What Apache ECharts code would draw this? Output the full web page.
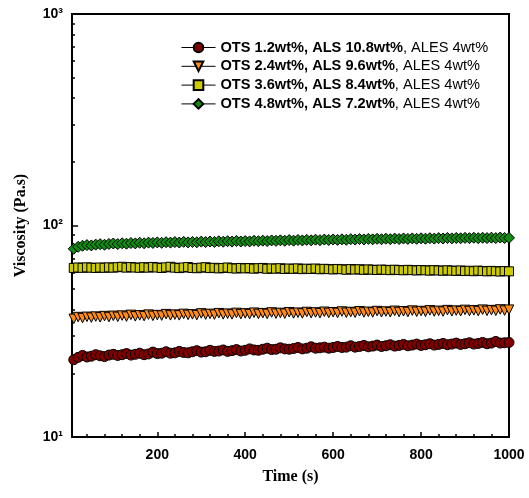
<!DOCTYPE html>
<html lang="en">
<head>
  <meta charset="UTF-8">
  <script src="https://cdn.jsdelivr.net/npm/echarts@6/dist/echarts.min.js"></script>
  <style>
    html, body { margin: 0; padding: 0; background: #fff; }
    #container { width: 529px; height: 498px; }
  </style>
</head>
<body>
  <div id="container"></div>
  <script>
    // time (s)
    var timeS = [
      10, 20, 30, 40, 50, 60, 70, 80, 90, 100,
      110, 120, 130, 140, 150, 160, 170, 180, 190, 200,
      210, 220, 230, 240, 250, 260, 270, 280, 290, 300,
      310, 320, 330, 340, 350, 360, 370, 380, 390, 400,
      410, 420, 430, 440, 450, 460, 470, 480, 490, 500,
      510, 520, 530, 540, 550, 560, 570, 580, 590, 600,
      610, 620, 630, 640, 650, 660, 670, 680, 690, 700,
      710, 720, 730, 740, 750, 760, 770, 780, 790, 800,
      810, 820, 830, 840, 850, 860, 870, 880, 890, 900,
      910, 920, 930, 940, 950, 960, 970, 980, 990, 1000
    ];

    // viscosity (Pa.s) for each sample
    var ots12 = [
      23.2, 23.8, 24.3, 23.9, 24.1, 24.5, 24.2, 24.0, 24.4, 24.6,
      24.3, 24.5, 24.8, 24.4, 24.6, 24.9, 24.5, 24.7, 25.2, 24.8,
      24.9, 25.3, 24.9, 25.0, 25.4, 25.1, 25.0, 25.3, 25.6, 25.2,
      25.3, 25.7, 25.4, 25.5, 25.8, 25.4, 25.6, 25.9, 25.5, 25.7,
      26.1, 25.8, 25.7, 26.0, 26.3, 25.9, 26.0, 26.4, 26.1, 26.0,
      26.2, 26.5, 26.1, 26.3, 26.7, 26.3, 26.4, 26.6, 26.3, 26.5,
      26.8, 26.5, 26.6, 27.0, 26.6, 26.8, 27.1, 26.7, 26.9, 27.2,
      26.8, 27.0, 27.3, 26.9, 27.1, 27.4, 27.0, 27.2, 27.5, 27.1,
      27.3, 27.6, 27.2, 27.4, 27.7, 27.3, 27.5, 27.8, 27.4, 27.6,
      27.9, 27.5, 27.7, 28.0, 27.6, 27.8, 28.3, 27.8, 27.9, 28.0
    ];
    var ots24 = [
      36.2, 36.9, 36.5, 37.0, 36.7, 37.1, 36.8, 37.3, 36.9, 37.4,
      37.0, 37.5, 37.1, 37.8, 37.2, 37.6, 37.3, 37.9, 37.4, 37.7,
      37.5, 38.1, 37.6, 37.9, 37.6, 38.2, 37.8, 38.0, 37.7, 38.4,
      37.9, 38.2, 37.9, 38.5, 38.0, 38.3, 38.0, 38.6, 38.1, 38.4,
      38.1, 38.7, 38.2, 38.5, 38.2, 38.8, 38.3, 38.6, 38.3, 38.9,
      38.4, 38.7, 38.4, 39.0, 38.5, 38.8, 38.5, 39.1, 38.6, 38.9,
      38.6, 39.2, 38.7, 39.0, 38.7, 39.3, 38.8, 39.1, 38.8, 39.4,
      38.9, 39.2, 38.9, 39.5, 39.0, 39.3, 39.0, 39.6, 39.1, 39.4,
      39.1, 39.7, 39.2, 39.5, 39.2, 39.8, 39.3, 39.6, 39.3, 39.9,
      39.4, 39.7, 39.4, 40.0, 39.5, 39.8, 39.5, 40.1, 39.6, 40.0
    ];
    var ots36 = [
      63.0, 63.3, 63.1, 63.4, 63.2, 63.0, 63.3, 63.1, 63.4, 63.2,
      63.5, 63.8, 63.2, 63.6, 63.3, 63.1, 63.5, 63.2, 63.7, 63.3,
      63.0, 63.4, 63.8, 63.2, 62.9, 63.3, 63.6, 63.0, 62.8, 63.2,
      63.5, 62.9, 63.1, 62.7, 63.0, 63.3, 62.8, 62.6, 63.0, 62.7,
      62.9, 62.5, 62.8, 63.0, 62.4, 62.7, 62.5, 62.8, 62.3, 62.6,
      62.4, 62.7, 62.2, 62.5, 62.3, 62.6, 62.1, 62.4, 62.2, 62.0,
      62.3, 62.1, 61.8, 62.2, 61.9, 62.1, 61.7, 62.0, 61.8, 61.6,
      61.9, 61.7, 61.5, 61.8, 61.6, 61.4, 61.7, 61.5, 61.3, 61.6,
      61.4, 61.2, 61.5, 61.3, 61.1, 61.4, 61.2, 61.0, 61.3, 60.9,
      61.1, 60.8, 61.2, 60.9, 60.7, 61.0, 60.8, 60.6, 60.9, 60.7
    ];
    var ots48 = [
      77.6, 79.3, 80.2, 80.8, 80.5, 81.2, 81.6, 81.1, 81.8, 82.2,
      81.7, 82.4, 82.0, 82.6, 82.3, 82.9, 82.4, 83.0, 82.7, 83.2,
      82.8, 83.4, 83.0, 83.5, 83.1, 83.7, 83.2, 83.6, 83.3, 83.9,
      83.5, 84.0, 83.6, 84.2, 83.8, 84.3, 83.9, 84.5, 84.0, 84.4,
      84.1, 84.7, 84.3, 84.8, 84.4, 85.0, 84.6, 85.1, 84.7, 85.3,
      84.8, 85.4, 85.0, 85.5, 85.1, 85.7, 85.2, 85.8, 85.4, 85.9,
      85.5, 86.0, 85.6, 86.2, 85.8, 86.3, 85.9, 86.4, 86.0, 86.5,
      86.1, 86.6, 86.2, 86.7, 86.3, 86.8, 86.4, 86.9, 86.5, 87.0,
      86.6, 87.1, 86.7, 87.2, 86.8, 87.3, 86.9, 87.3, 87.0, 87.4,
      87.1, 87.5, 87.1, 87.5, 87.2, 87.6, 87.2, 87.7, 87.3, 87.4
    ];

    // legend text: bold part + plain part
    var boldNames = [
      'OTS 1.2wt%, ALS 10.8wt%',
      'OTS 2.4wt%, ALS 9.6wt%',
      'OTS 3.6wt%, ALS 8.4wt%',
      'OTS 4.8wt%, ALS 7.2wt%'
    ];
    var plainName = ', ALES 4wt%';

    var xMajorTicks = [200, 400, 600, 800, 1000];
    var xMinorTicks = [40, 80, 120, 160, 240, 280, 320, 360, 440, 480, 520, 560,
      640, 680, 720, 760, 840, 880, 920, 960];
    var yMinorTicks = [20, 30, 40, 50, 60, 70, 80, 90, 200, 300, 400, 500, 600, 700, 800, 900];

    var seriesValues = [ots12, ots24, ots36, ots48];
    var seriesColors = ['#800000', '#ff8c1a', '#cccc00', '#138a13'];
    var seriesSymbols = ['circle', 'triangle', 'rect', 'diamond'];
    var seriesRotate = [0, 180, 0, 0];
    var seriesSizes = [10, 9.5, 9, 11];

    function pairs(values) {
      var res = [];
      for (var i = 0; i < values.length; i++) {
        res.push([timeS[i], values[i]]);
      }
      return res;
    }

    var sup = { 1: '\u00b9', 2: '\u00b2', 3: '\u00b3' };
    var myChart = echarts.init(document.getElementById('container'));

    var series = [];
    for (var i = 0; i < seriesValues.length; i++) {
      series.push({
        name: boldNames[i] + plainName,
        type: 'line',
        data: pairs(seriesValues[i]),
        symbol: seriesSymbols[i],
        symbolSize: seriesSizes[i],
        symbolRotate: seriesRotate[i],
        showAllSymbol: true,
        lineStyle: { color: '#000', width: 1 },
        itemStyle: { color: seriesColors[i], borderColor: '#000', borderWidth: 1 },
        emphasis: { disabled: true }
      });
    }

    var labelFont = { color: '#000', fontFamily: 'Liberation Sans, Arial', fontWeight: 'bold' };

    var option = {
      animation: false,
      backgroundColor: '#fff',
      grid: {
        left: 72, right: 20, top: 14, bottom: 61,
        show: true, borderColor: '#000', borderWidth: 2
      },
      legend: {
        orient: 'vertical',
        left: 176,
        top: 35,
        itemWidth: 34,
        itemHeight: 12,
        itemGap: 3.8,
        lineStyle: { width: 1 },
        data: series.map(function (s) { return s.name; }),
        formatter: function (name) {
          var idx = series.findIndex(function (s) { return s.name === name; });
          return '{b|' + boldNames[idx] + '}{n|' + plainName + '}';
        },
        textStyle: {
          rich: {
            b: { fontFamily: 'Liberation Sans, Arial', fontWeight: 'bold', fontSize: 14.6, color: '#000', lineHeight: 14 },
            n: { fontFamily: 'Liberation Sans, Arial', fontSize: 14.6, color: '#000', lineHeight: 14 }
          }
        }
      },
      xAxis: [{
        type: 'value',
        position: 'bottom',
        min: 6,
        max: 1000,
        name: 'Time (s)',
        nameLocation: 'middle',
        nameGap: 32,
        nameTextStyle: { fontFamily: 'Liberation Serif, Times New Roman', fontWeight: 'bold', fontSize: 16, color: '#000' },
        axisLine: { lineStyle: { color: '#000', width: 2 } },
        axisTick: { inside: true, length: 5, customValues: xMajorTicks, lineStyle: { color: '#000', width: 1.5 } },
        axisLabel: Object.assign({
          fontSize: 14, margin: 11, customValues: xMajorTicks,
          formatter: function (v) { return String(v); }
        }, labelFont),
        splitLine: { show: false }
      }, {
        type: 'value',
        position: 'bottom',
        min: 6,
        max: 1000,
        axisLine: { show: false },
        axisTick: { inside: true, length: 3, customValues: xMinorTicks, lineStyle: { color: '#000', width: 1.5 } },
        axisLabel: { show: false },
        splitLine: { show: false }
      }],
      yAxis: [{
        type: 'log',
        logBase: 10,
        position: 'left',
        min: 10,
        max: 1000,
        name: 'Viscosity (Pa.s)',
        nameLocation: 'middle',
        nameGap: 43,
        nameTextStyle: { fontFamily: 'Liberation Serif, Times New Roman', fontWeight: 'bold', fontSize: 16, color: '#000' },
        axisLine: { lineStyle: { color: '#000', width: 2 } },
        axisTick: { inside: true, length: 6, lineStyle: { color: '#000', width: 1.5 } },
        axisLabel: Object.assign({
          fontSize: 14, margin: 9,
          formatter: function (v) { return '10' + sup[Math.round(Math.log10(v))]; }
        }, labelFont),
        splitLine: { show: false }
      }, {
        type: 'log',
        logBase: 10,
        position: 'left',
        min: 10,
        max: 1000,
        axisLine: { show: false },
        axisTick: { inside: true, length: 3, customValues: yMinorTicks, lineStyle: { color: '#000', width: 1.5 } },
        axisLabel: { show: false },
        splitLine: { show: false }
      }],
      series: series
    };

    myChart.setOption(option);
  </script>
</body>
</html>
